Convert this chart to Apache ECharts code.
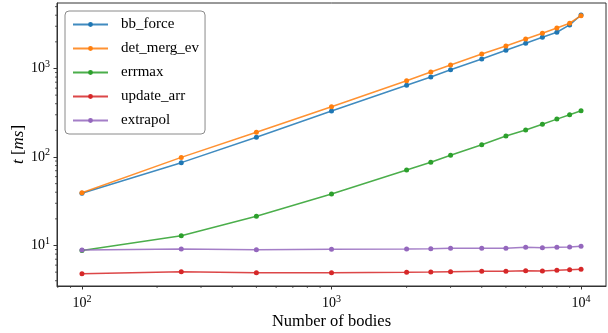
<!DOCTYPE html>
<html><head><meta charset="utf-8">
<script src="https://cdn.jsdelivr.net/npm/echarts@6/dist/echarts.min.js"></script>
<style>html,body{margin:0;padding:0;background:#fff}#c{width:608px;height:333px}</style>
</head><body><div id="c"></div>
<script>
const bodies = [100,250,500,1000,2000,2500,3000,4000,5000,6000,7000,8000,9000,10000];
const bbForce = [38.9,86.3,167,331,646,802,968,1279,1606,1928,2255,2566,3105,4025];
const detMergEv = [39.5,99,190,370,728,912,1096,1458,1795,2155,2500,2870,3245,3955];
const errmax = [8.8,12.9,21.4,38.2,71.3,87.1,104.5,137.7,172.6,202,234,268,300,333];
const updateArr = [4.80,5.06,4.93,4.93,4.98,5.02,5.06,5.11,5.11,5.19,5.15,5.24,5.33,5.38];
const extrapol = [8.9,9.13,8.97,9.1,9.13,9.2,9.3,9.3,9.3,9.54,9.45,9.54,9.62,9.8];
const seriesNames = ['bb_force','det_merg_ev','errmax','update_arr','extrapol'];
const seriesValues = [bbForce, detMergEv, errmax, updateArr, extrapol];
const colors = ['#1f77b4','#ff7f0e','#2ca02c','#d62728','#9467bd'];
const xTitle = 'Number of bodies';
const xMinorTicks = [80,90,200,300,400,500,600,700,800,900,2000,3000,4000,5000,6000,7000,8000,9000];
const yMinorTicks = [4,5,6,7,8,9,20,30,40,50,60,70,80,90,200,300,400,500,600,700,800,900,2000,3000,4000,5000];

const FONT = 'Liberation Serif';
const xMin = Math.pow(10, 1.9), xMax = Math.pow(10, 4.1);
const yMin = 3.487, yMax = 5495;

const tickLabel = {
  fontFamily: FONT,
  formatter: v => '{b|10}{s|' + Math.round(Math.log10(v)) + '}',
  rich: {
    b: {fontSize: 14, fontFamily: FONT, color: '#000'},
    s: {fontSize: 10, fontFamily: FONT, color: '#000', padding: [0, 0, 9, 0]}
  },
  showMinLabel: false, showMaxLabel: false
};

const chart = echarts.init(document.getElementById('c'), null, {renderer: 'canvas'});
chart.setOption({
  animation: false,
  color: colors,
  grid: {left: 57, right: 2, top: 3, bottom: 47, show: true, borderColor: '#333', borderWidth: 1,
         containLabel: false, outerBoundsMode: 'none'},
  legend: {
    orient: 'vertical', left: 65, top: 11,
    itemWidth: 35, itemHeight: 6, itemGap: 8,
    padding: [5.5, 6, 5.5, 7],
    backgroundColor: '#fff', borderColor: '#8a8a8a', borderWidth: 1, borderRadius: 4,
    textStyle: {fontFamily: FONT, fontSize: 15, color: '#000', lineHeight: 16, padding: [0, 0, 0, 8]},
    data: seriesNames
  },
  xAxis: {
    type: 'log', logBase: 10, min: xMin, max: xMax,
    name: xTitle, nameLocation: 'middle', nameGap: 27, nameMoveOverlap: false,
    nameTextStyle: {fontFamily: FONT, fontSize: 16.5, color: '#000'},
    axisLine: {show: true, lineStyle: {color: '#333', width: 1}},
    axisTick: {show: true, inside: false, length: 3.5, lineStyle: {color: '#333', width: 1}},
    axisLabel: Object.assign({margin: 8}, tickLabel),
    splitLine: {show: false}, minorTick: {show: false}
  },
  yAxis: {
    type: 'log', logBase: 10, min: yMin, max: yMax,
    name: '{i|t} [{i|ms}]', nameLocation: 'middle', nameGap: 30, nameRotate: 90, nameMoveOverlap: false,
    nameTextStyle: {fontFamily: FONT, fontSize: 17, color: '#000',
      rich: {i: {fontFamily: FONT, fontSize: 17, fontStyle: 'italic', color: '#000'}}},
    axisLine: {show: true, lineStyle: {color: '#333', width: 1}},
    axisTick: {show: true, inside: false, length: 3.5, lineStyle: {color: '#333', width: 1}},
    axisLabel: Object.assign({margin: 7, align: 'right'}, tickLabel),
    splitLine: {show: false}, minorTick: {show: false}
  },
  series: seriesNames.map((n, i) => ({
    name: n, type: 'line',
    data: bodies.map((x, j) => [x, seriesValues[i][j]]),
    symbol: 'circle', symbolSize: 5, showSymbol: true,
    itemStyle: {color: colors[i]},
    lineStyle: {color: colors[i], width: 1.5, opacity: 0.85},
    emphasis: {disabled: true}
  }))
});

// minor ticks placed through the axis scales
const g = [];
const yBottom = chart.convertToPixel({yAxisIndex: 0}, yMin);
const xLeft = chart.convertToPixel({xAxisIndex: 0}, xMin);
xMinorTicks.forEach(v => {
  const px = chart.convertToPixel({xAxisIndex: 0}, v);
  g.push({type: 'line', silent: true, shape: {x1: px, y1: yBottom, x2: px, y2: yBottom + 2}, style: {stroke: '#333', lineWidth: 0.8}});
});
yMinorTicks.forEach(v => {
  const py = chart.convertToPixel({yAxisIndex: 0}, v);
  g.push({type: 'line', silent: true, shape: {x1: xLeft - 2, y1: py, x2: xLeft, y2: py}, style: {stroke: '#333', lineWidth: 0.8}});
});
chart.setOption({graphic: g});
</script>
</body></html>
